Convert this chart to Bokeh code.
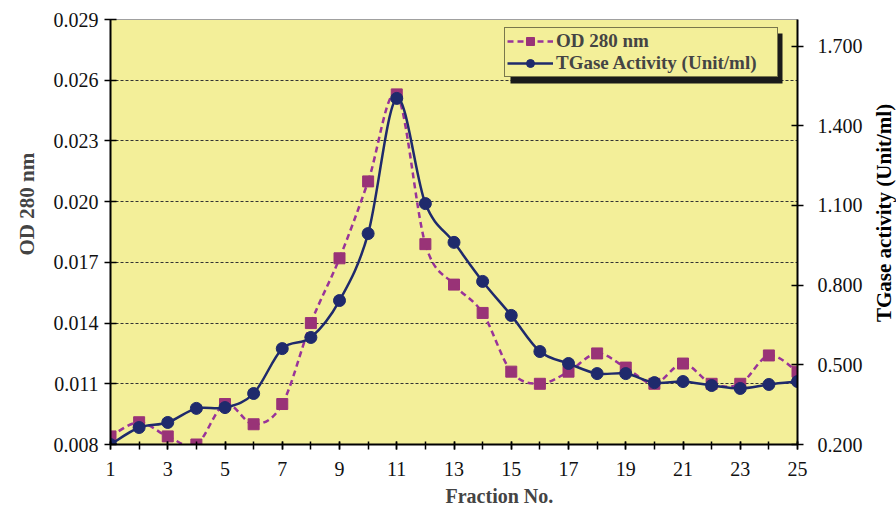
import math
from bokeh.plotting import figure
from bokeh.layouts import row
from bokeh.models import (Range1d, LinearAxis, FixedTicker, NumeralTickFormatter,
                          Legend, LegendItem, BoxAnnotation, Title, ColumnDataSource)
from bokeh.core.properties import value
from bokeh.embed import file_html
from bokeh.resources import INLINE

# ---- data ----
fractions = list(range(1, 26))
od280 = [0.0084, 0.0091, 0.0084, 0.0080, 0.0100, 0.0090, 0.0100, 0.0140, 0.0172, 0.0210,
         0.0253, 0.0179, 0.0159, 0.0145, 0.0116, 0.0110, 0.0116, 0.0125, 0.0118, 0.0110,
         0.0120, 0.0110, 0.0110, 0.0124, 0.0116]
tgase = [0.200, 0.264, 0.283, 0.336, 0.339, 0.392, 0.561, 0.603, 0.742, 0.994,
         1.503, 1.107, 0.961, 0.814, 0.686, 0.550, 0.505, 0.467, 0.467, 0.433,
         0.437, 0.422, 0.411, 0.426, 0.437]
left_ticks = [0.008, 0.011, 0.014, 0.017, 0.020, 0.023, 0.026, 0.029]
right_ticks = [0.2, 0.5, 0.8, 1.1, 1.4, 1.7]
x_label_ticks = list(range(1, 26, 2))
right_title = "TGase activity (Unit/ml)"

YELLOW = "#F3EF99"
OD_COLOR = "#993377"
OD_LINE = "#993399"
TG_COLOR = "#1F2A6C"
FONT = "Liberation Serif"


def smooth_segments(xs, ys, k=1.0):
    """Catmull-Rom style bezier control points (spline through the data points)."""
    n = len(xs)
    d = dict(x0=[], y0=[], x1=[], y1=[], cx0=[], cy0=[], cx1=[], cy1=[])
    for i in range(n - 1):
        xp, yp = (xs[i - 1], ys[i - 1]) if i > 0 else (xs[i], ys[i])
        xn2, yn2 = (xs[i + 2], ys[i + 2]) if i + 2 < n else (xs[i + 1], ys[i + 1])
        d["x0"].append(xs[i]); d["y0"].append(ys[i])
        d["x1"].append(xs[i + 1]); d["y1"].append(ys[i + 1])
        d["cx0"].append(xs[i] + (xs[i + 1] - xp) / 6 * k)
        d["cy0"].append(ys[i] + (ys[i + 1] - yp) / 6 * k)
        d["cx1"].append(xs[i + 1] - (xn2 - xs[i]) / 6 * k)
        d["cy1"].append(ys[i + 1] - (yn2 - ys[i]) / 6 * k)
    return ColumnDataSource(d)


W1, W2, H = 869, 27, 512
p = figure(width=W1, height=H, output_backend="svg", toolbar_location=None,
           x_range=Range1d(1, 25), y_range=Range1d(0.008, 0.029),
           min_border_left=110, min_border_right=W1 - 797, min_border_top=19,
           min_border_bottom=H - 444)
p.background_fill_color = YELLOW
p.border_fill_color = "white"
p.outline_line_color = "#A0A0A0"
p.extra_y_ranges = {"tg": Range1d(0.2, 1.8)}


def style_axis(ax):
    ax.major_label_text_font = FONT
    ax.major_label_text_font_size = "20px"
    ax.major_label_text_color = "#111111"
    ax.axis_line_color = "black"
    ax.axis_line_width = 2
    ax.major_tick_line_color = "black"
    ax.major_tick_line_width = 1.5
    ax.minor_tick_line_color = "black"
    ax.minor_tick_line_width = 1.5


xa = p.xaxis[0]
xa.ticker = FixedTicker(ticks=x_label_ticks, minor_ticks=fractions)
style_axis(xa)
xa.major_tick_in = 3
xa.major_tick_out = 5
xa.minor_tick_in = 3
xa.minor_tick_out = 5
xa.major_label_standoff = 12

ya = p.yaxis[0]
ya.ticker = FixedTicker(ticks=left_ticks)
ya.formatter = NumeralTickFormatter(format="0.000")
style_axis(ya)
ya.major_tick_in = 6
ya.major_tick_out = 6
ya.minor_tick_line_color = None
ya.major_label_standoff = 6

ra = LinearAxis(y_range_name="tg", ticker=FixedTicker(ticks=right_ticks),
                formatter=NumeralTickFormatter(format="0.000"))
style_axis(ra)
ra.major_tick_in = 6
ra.major_tick_out = 6
ra.minor_tick_line_color = None
ra.major_label_standoff = 14
p.add_layout(ra, "right")

p.xgrid.grid_line_color = None
p.ygrid.grid_line_color = "#333333"
p.ygrid.grid_line_dash = "3 2"
p.ygrid.grid_line_width = 1

# OD 280 series (dashed smooth)
od_src = smooth_segments(fractions, od280)
od_line = p.bezier("x0", "y0", "x1", "y1", "cx0", "cy0", "cx1", "cy1", source=od_src,
                   line_color=OD_LINE, line_width=2.5, line_dash="6 4")
od_pts = p.scatter(fractions, od280, marker="square", size=11, fill_color=OD_COLOR,
                   line_color=OD_COLOR)

# TGase series (solid smooth)
tg_src = smooth_segments(fractions, tgase)
tg_line = p.bezier("x0", "y0", "x1", "y1", "cx0", "cy0", "cx1", "cy1", source=tg_src,
                   line_color=TG_COLOR, line_width=2.5, y_range_name="tg")
tg_pts = p.scatter(fractions, tgase, marker="circle", size=12, fill_color=TG_COLOR,
                   line_color=TG_COLOR, y_range_name="tg")

# legend shadow
shadow = BoxAnnotation(left=400, right=672, bottom=361, top=411,
                       left_units="screen", right_units="screen",
                       bottom_units="screen", top_units="screen",
                       fill_color="#1A1A1A", fill_alpha=1, line_color=None,
                       level="annotation")
p.add_layout(shadow)

legend = Legend(items=[LegendItem(label="OD 280 nm", renderers=[od_line, od_pts]),
                       LegendItem(label="TGase Activity (Unit/ml)", renderers=[tg_line, tg_pts])],
                location=(394, 367))
legend.background_fill_color = YELLOW
legend.background_fill_alpha = 1
legend.border_line_color = "black"
legend.border_line_width = 1.5
legend.label_text_font = FONT
legend.label_text_font_style = "bold"
legend.label_text_font_size = "19px"
legend.glyph_width = 46
legend.glyph_height = 20
legend.spacing = 0
legend.padding = 2
legend.margin = 0
legend.label_standoff = 3
legend.label_height = 20
legend.label_width = 219
p.add_layout(legend)

# axis titles
p.add_layout(Title(text="OD 280 nm", align="left", offset=189, standoff=24,
                   text_font=FONT, text_font_style="bold", text_font_size="21px"), "left")
p.add_layout(Title(text="Fraction No.", align="left", offset=335, standoff=8,
                   text_font=FONT, text_font_style="bold", text_font_size="20px"), "below")

# narrow strip holding the right-hand axis title (reads bottom to top)
p2 = figure(width=W2, height=H, output_backend="svg", toolbar_location=None,
            x_range=Range1d(0, W2), y_range=Range1d(0, H),
            min_border_left=0, min_border_right=0, min_border_top=0, min_border_bottom=0)
p2.axis.visible = False
p2.grid.grid_line_color = None
p2.outline_line_color = None
p2.background_fill_color = "white"
p2.border_fill_color = "white"
p2.text(x=[W2 / 2 + 1], y=[H - 233], text=[right_title], angle=math.pi / 2,
        text_font=value(FONT), text_font_style="bold", text_font_size="21px",
        text_color="black", text_align="center", text_baseline="middle")

open("out.html", "w").write(file_html(row(p, p2), INLINE))
